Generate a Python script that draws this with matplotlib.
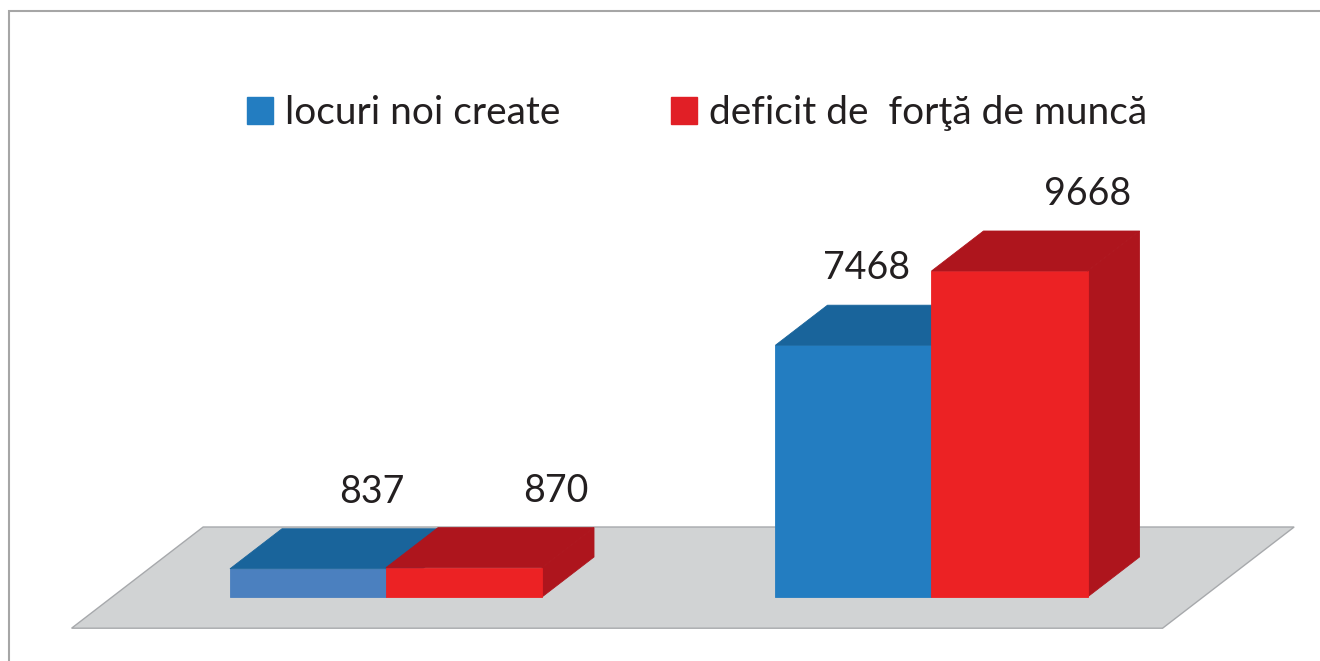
import matplotlib
matplotlib.use("Agg")
import matplotlib.pyplot as plt
from matplotlib.patches import Polygon, Patch, Rectangle

plt.rcParams["font.family"] = ["Lato", "DejaVu Sans"]

# date
serii = ["locuri noi create", "deficit de  forţă de muncă"]
locuri_noi = [837, 7468]
deficit = [870, 9668]
valori = [locuri_noi, deficit]

# stil
culori_fata = [["#4b80bf", "#237dc1"], ["#ec2224", "#ec2224"]]
culori_umbra = ["#19649b", "#ae151d"]
culoare_legenda = ["#237dc1", "#e11f26"]
podea = "#d1d3d4"
LATIME = 0.286
DX, DY = 52, 40  # adancimea 3D in pixeli
nudge_etichete = [[12, 40], [-39, 26]]

fig = plt.figure(figsize=(13.2, 6.61), dpi=100)
ax = fig.add_axes([0, 64 / 661, 1, 539.5 / 661])
ax.set_xlim(-0.7076, 1.7122)
ax.set_ylim(0, 16000)
ax.axis("off")


def px(x, y, t=0.0):
    p = ax.transData.transform((x, y))
    return (p[0] + t * DX, p[1] + t * DY)


def fata(puncte, culoare, margine=None, lw=0.6):
    poly = Polygon(puncte, closed=True, facecolor=culoare,
                   edgecolor=margine or culoare, lw=lw, transform=None)
    fig.add_artist(poly)


# podeaua
fata([px(-0.502, 0, -0.78), px(1.498, 0, -0.78),
      px(1.498, 0, 1.75), px(-0.502, 0, 1.75)], podea, "#a7a9ac", 1.0)

# barele
for g in range(len(locuri_noi)):
    for s, vals in enumerate(valori):
        x0 = g + (s - 1) * LATIME
        x1 = x0 + LATIME
        v = vals[g]
        fata([px(x1, 0), px(x1, 0, 1), px(x1, v, 1), px(x1, v)], culori_umbra[s])
        fata([px(x0, 0), px(x1, 0), px(x1, v), px(x0, v)], culori_fata[s][g])
        fata([px(x0, v), px(x1, v), px(x1, v, 1), px(x0, v, 1)], culori_umbra[s])
        ax.annotate(f"{v}", xy=((x0 + x1) / 2, v),
                    xytext=(DX + nudge_etichete[g][s], DY + 37),
                    textcoords="offset pixels", ha="center", va="center",
                    fontsize=27, color="#231f20", annotation_clip=False)

# legenda
handles = [Patch(facecolor=c, edgecolor=c) for c in culoare_legenda]
fig.legend(handles, serii, loc="center", bbox_to_anchor=(0.528, 0.829),
           ncol=2, frameon=False, fontsize=28, handlelength=0.68,
           handleheight=0.68, handletextpad=0.3, columnspacing=2.85,
           labelcolor="#231f20")

# chenar
fig.add_artist(Rectangle((9 / 1320, -0.1), 1.1, (661 - 11) / 661 + 0.1,
                         transform=fig.transFigure, fill=False,
                         ec="#a6a6a6", lw=1.5))

fig.savefig("out.png", dpi=100)
